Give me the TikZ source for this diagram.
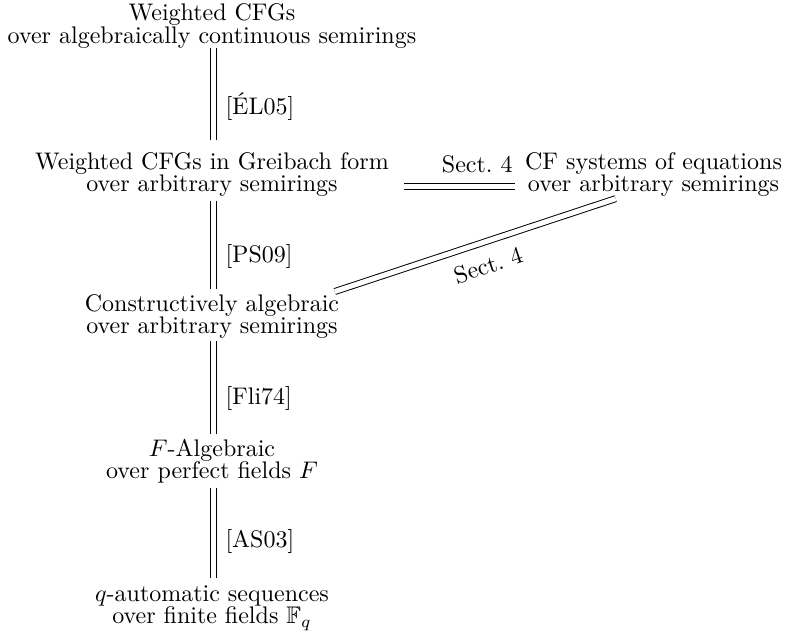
\documentclass[tikz,border=0pt]{standalone}
\usepackage{amsmath,amssymb}
\usetikzlibrary{positioning}
\tikzset{
  stmt/.style={align=center, inner sep=0pt, font={\fontsize{10}{9.2}\selectfont}},
  equiv/.style={double, double distance=2.1pt, line width=0.4pt},
  citelbl/.style={right=1.3pt},
}

\begin{document}
\begin{tikzpicture}[x=0.4167pt, y=-0.4167pt, on grid]
  \useasboundingbox (0,0) rectangle (789,644);
  % Define nodes
  \node[stmt] (wcfg) at (212,26) {Weighted CFGs\\over algebraically continuous semirings};
  \node[stmt, below=62pt of wcfg] (gnf) {Weighted CFGs in Greibach form\\over arbitrary semirings};
  \node[stmt, right=184pt of gnf] (sys) {CF systems of equations\\over arbitrary semirings};
  \node[stmt, below=59pt of gnf] (calg) {Constructively algebraic\\over arbitrary semirings};
  \node[stmt, below=60.5pt of calg] (falg) {$F$-Algebraic\\over perfect fields $F$};
  \node[stmt, below=61pt of falg] (qaut) {$q$-automatic sequences\\over finite fields $\mathbb{F}_q$};

  % Connect the nodes
  \draw[equiv, shorten >=5pt] ([xshift=0.8pt]wcfg.south) -- ([xshift=0.8pt]gnf.north)
    node[citelbl, pos=0.56] {[ÉL05]};
  \draw[equiv, shorten <=1.5pt, shorten >=2pt] ([xshift=0.8pt]gnf.south) -- ([xshift=0.8pt]calg.north)
    node[citelbl, pos=0.61] {[PS09]};
  \draw[equiv, shorten <=1pt, shorten >=2pt] ([xshift=0.8pt]calg.south) -- ([xshift=0.8pt]falg.north)
    node[citelbl, pos=0.6] {[Fli74]};
  \draw[equiv, shorten <=1.5pt, shorten >=3pt] ([xshift=0.8pt]falg.south) -- ([xshift=0.8pt]qaut.north)
    node[citelbl, pos=0.57] {[AS03]};
  \draw[equiv, shorten <=6pt, shorten >=4pt] ([yshift=-4.9pt]gnf.east) -- ([yshift=-4.9pt]sys.west)
    node[above=2pt, pos=0.65] {Sect.~4};
  \draw[equiv] ([xshift=-2pt,yshift=1pt]calg.north east) -- ([xshift=-15.8pt,yshift=-0.6pt]sys.south)
    node[sloped, below=2.5pt, pos=0.52] {Sect.~4};
\end{tikzpicture}
\end{document}
